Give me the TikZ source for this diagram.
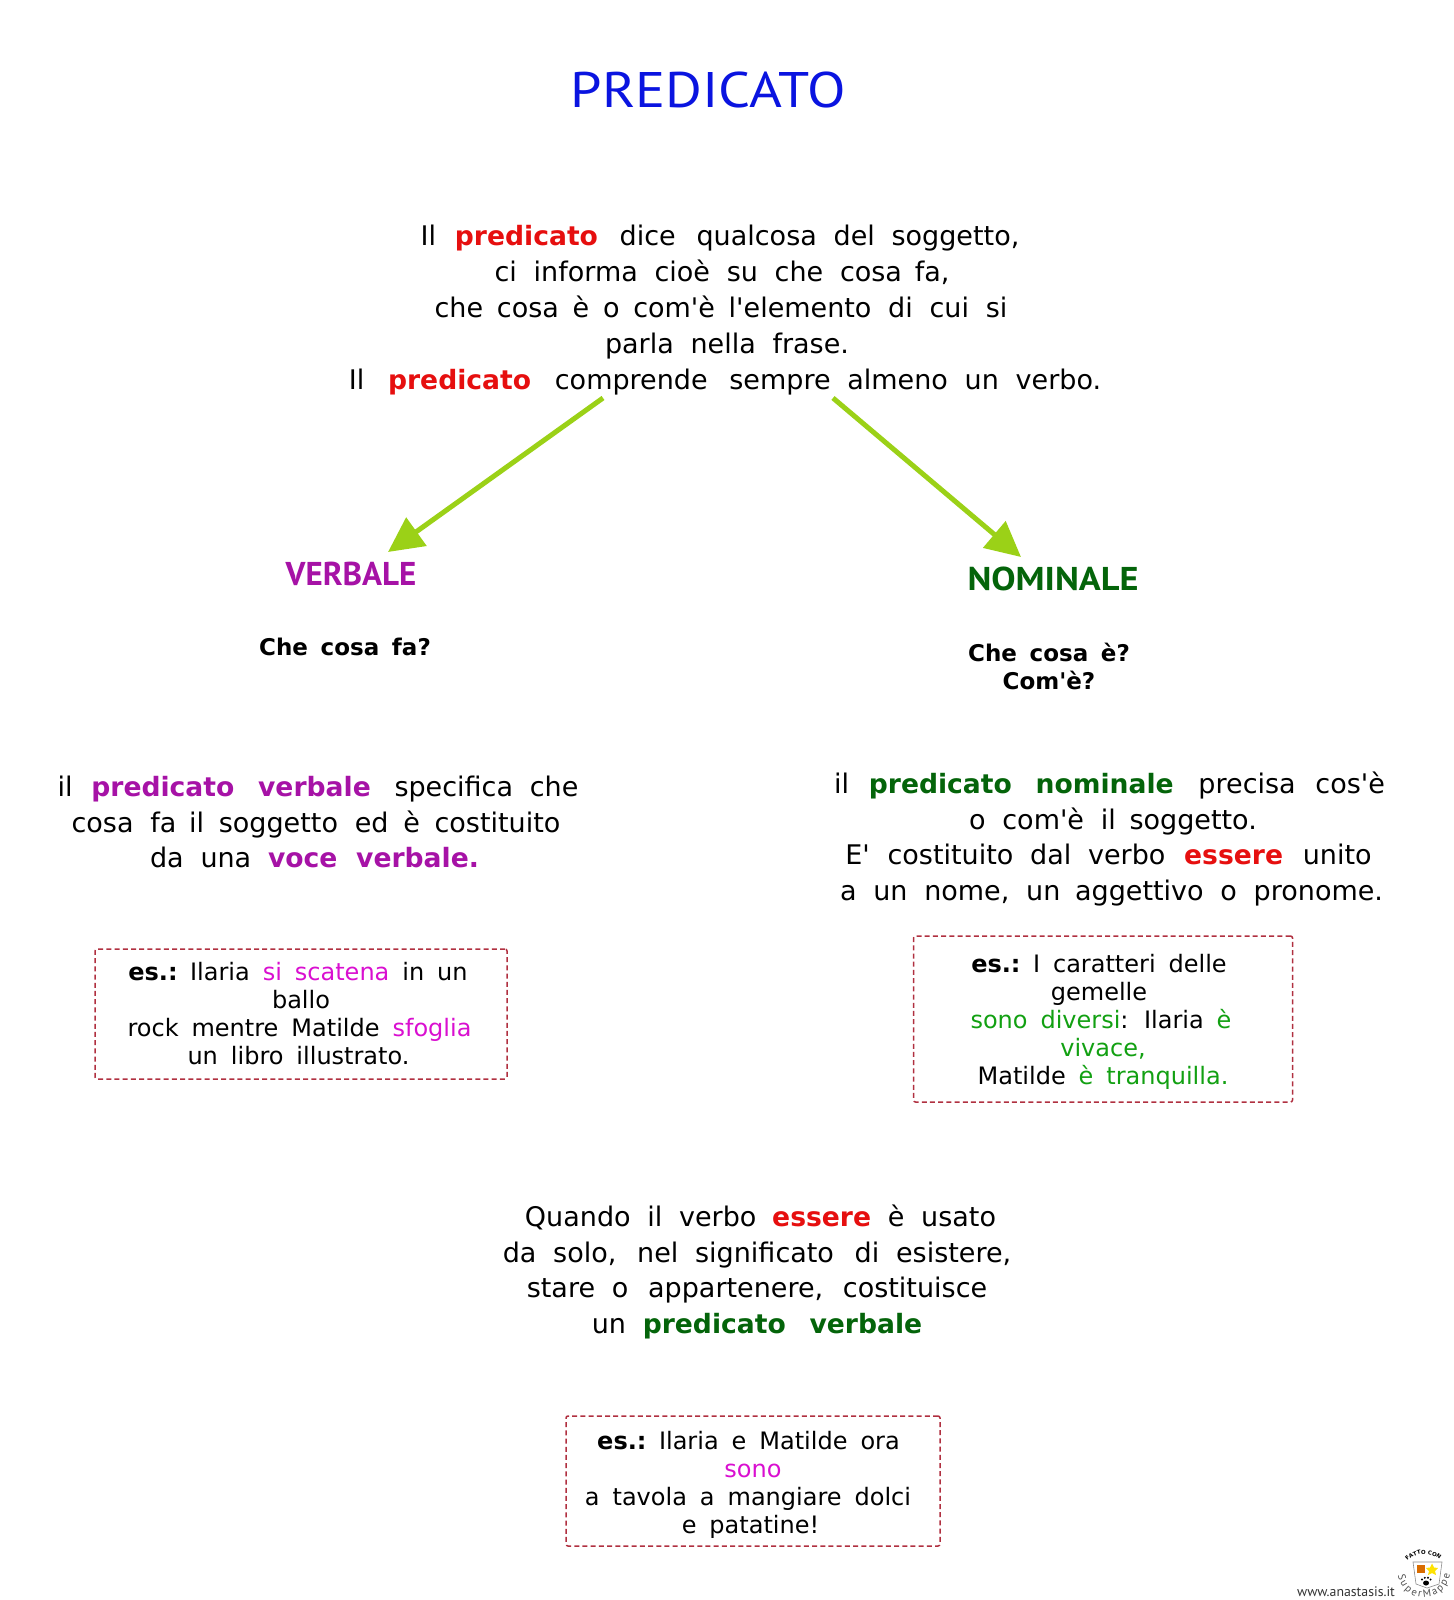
\documentclass[tikz,border=0pt]{standalone}
\usepackage{fontspec}
\usetikzlibrary{arrows.meta,decorations.text}
\setmainfont{DejaVu Sans}
\newfontfamily\bodyfont{DejaVu Sans}
\newfontfamily\headfont{PT Sans}
\newfontfamily\titlefont[FakeStretch=1.125]{PT Sans}
\newfontfamily\nomfont[FakeStretch=1.1]{PT Sans}
\definecolor{cred}{HTML}{E60F0F}
\definecolor{cpurple}{HTML}{A612A6}
\definecolor{cdgreen}{HTML}{04640A}
\definecolor{cmag}{HTML}{D90FD0}
\definecolor{cgreen}{HTML}{12A012}
\definecolor{cblue}{HTML}{0A14E0}
\definecolor{carrow}{HTML}{9BD117}
\definecolor{cdash}{HTML}{B03040}
\newcommand{\wsp}{\spaceskip=0.62em\relax}
\newcommand{\wspb}{\spaceskip=0.54em\relax}
\newcommand{\wspq}{\spaceskip=0.55em\relax}
\newcommand{\bb}[1]{{\fontsize{26.6}{35.8}\selectfont\bfseries #1}}
\newcommand{\rd}[1]{\textcolor{cred}{\bb{#1}}}
\newcommand{\pu}[1]{\textcolor{cpurple}{\bb{#1}}}
\newcommand{\dg}[1]{\textcolor{cdgreen}{\bb{#1}}}
\newcommand{\mg}[1]{\textcolor{cmag}{#1}}
\newcommand{\gr}[1]{\textcolor{cgreen}{#1}}
\newcommand{\gp}[1]{\hspace{#1pt}}
\newcommand{\tr}[1]{\mbox{}\hspace*{#1pt}\mbox{}}
\newcommand{\ld}[1]{\mbox{}\hspace*{#1pt}}
\tikzset{
  x=1pt,y=-1pt,
  para/.style={align=center,inner sep=0pt,font=\bodyfont\fontsize{27}{35.8}\selectfont\wsp},
  ask/.style={align=center,inner sep=0pt,font=\bodyfont\bfseries\fontsize{23}{28}\selectfont\wspq},
  head/.style={inner sep=0pt},
  exbox/.style={draw=cdash,dash pattern=on 5pt off 3.2pt,line width=1.5pt,rounded corners=2pt,align=center,inner sep=0pt,
    font=\bodyfont\fontsize{24}{28}\selectfont\wspb},
  link/.style={draw=carrow,line width=5pt,-{Triangle[length=35pt,width=34pt,fill=carrow]}},
}
\begin{document}
\begin{tikzpicture}
\useasboundingbox (0,0) rectangle (1453,1600);
\node[head,text=cblue,font=\titlefont\fontsize{50}{50}\selectfont] (title) at (708,90) {PREDICATO};
\node[para] (intro) at (725,310) {Il\gp{2} \rd{predicato}\gp{5} dice\gp{4} qualcosa del soggetto,\tr{10}\\ ci informa cioè su che cosa\gp{-4} fa,\tr{6}\\ che\gp{-3} cosa\gp{-3} è\gp{-3} o\gp{-3} com'è\gp{-3} l'elemento di cui si\tr{8}\\ \ld{4}parla nella frase.\\ Il\gp{7} \rd{predicato}\gp{7} comprende\gp{5} sempre almeno un verbo.};
\coordinate (la) at (603,398);
\coordinate (lb) at (388,552);
\coordinate (ra) at (833,398);
\coordinate (rb) at (1021,557);
\draw[link] (la) -- (lb);
\draw[link] (ra) -- (rb);
\node[head,text=cpurple,font=\headfont\bfseries\fontsize{33}{33}\selectfont] (verbale) at (351,574) {VERBALE};
\node[head,text=cdgreen,font=\nomfont\bfseries\fontsize{33}{33}\selectfont] (nominale) at (1053,579) {NOMINALE};
\node[ask] (q1) at (345,647) {Che cosa fa?};
\node[ask] (q2) at (1049,666) {Che cosa è?\\ Com'è?};
\node[para] (pv) at (318,822) {il\gp{2} \pu{predicato}\gp{7} \pu{verbale}\gp{7} specifica che\\ cosa fa\gp{-4} il\gp{-2} soggetto ed\gp{-2} è\gp{-2} costituito\tr{4}\\ da una \pu{voce}\gp{2} \pu{verbale.}\tr{7}};
\node[para] (pn) at (1113,839) {il\gp{3} \dg{predicato}\gp{7} \dg{nominale}\gp{8} precisa\gp{3} cos'è\tr{7}\\ o com'è il\gp{-3} soggetto.\\ E'\gp{1} costituito dal verbo\gp{2} \rd{essere}\gp{3} unito\tr{9}\\ a un nome, un\gp{-2} aggettivo o pronome.\tr{3}};
\node[exbox,minimum width=412pt,minimum height=130pt] (ex1) at (301,1014) {\textbf{es.:}\gp{-3} Ilaria \mg{si} \mg{scatena} in un\tr{6}\\ ballo\\ rock mentre Matilde \mg{sfoglia}\tr{3}\\ un libro illustrato.\tr{5}};
\node[exbox,minimum width=379pt,minimum height=166pt] (ex2) at (1103,1019) {\rule{0pt}{24pt}\textbf{es.:}\gp{-3} I caratteri delle\tr{8}\\ gemelle\tr{8}\\ \gr{sono diversi}: Ilaria \gr{è}\tr{4}\\ \gr{vivace,}\\ Matilde \gr{è tranquilla.}};
\node[para] (pe) at (757,1272) {\ld{7}Quando il verbo\gp{-1} \rd{essere} è usato\\ da solo,\gp{4} nel significato\gp{4} di esistere,\\ stare o\gp{3} appartenere,\gp{3} costituisce\\ un \dg{predicato}\gp{7} \dg{verbale}};
\node[exbox,minimum width=374pt,minimum height=130pt] (ex3) at (753,1481) {\rule{0pt}{26pt}\textbf{es.:}\gp{-3} Ilaria e Matilde ora\tr{9}\\ \mg{sono}\\ a tavola a mangiare dolci\tr{10}\\ e patatine!\tr{5}};
\node[inner sep=0pt,font=\headfont\fontsize{13.8}{15}\selectfont,text=black!80] (site) at (1346,1592) {www.anastasis.it};
% logo
\path[postaction={decorate,decoration={text along path,text align=center,text={|\fontsize{5.5}{6}\selectfont\bfseries|FATTO CON}}}]
  (1404,1567) .. controls (1410,1550) and (1436,1550) .. (1444,1565);
\path[postaction={decorate,decoration={text along path,text align={fit to path},text={|\headfont\fontsize{10.5}{11}\selectfont\color{black!70}|SuperMappe}}}]
  (1398,1575) .. controls (1403,1605) and (1445,1605) .. (1450,1574);
\draw[black!45,line width=.6pt] (1413,1562) -- (1442,1562) -- (1439,1584) -- (1427,1588) -- (1416,1584) -- cycle;
\fill[orange!85!black] (1417,1565) rectangle (1425,1573);
\fill[yellow!85!orange] (1432,1563.5) -- (1434,1567.5) -- (1438,1568) -- (1435,1571) -- (1436,1575) -- (1432,1573) -- (1428,1575) -- (1429,1571) -- (1426,1568) -- (1430,1567.5) -- cycle;
\fill[black] (1426,1583) ellipse[x radius=3,y radius=2.5];
\fill[black] (1422,1579.5) circle(1.1) (1424.8,1577.8) circle(1.1) (1428,1577.8) circle(1.1) (1430.6,1579.5) circle(1.1);
\end{tikzpicture}
\end{document}
